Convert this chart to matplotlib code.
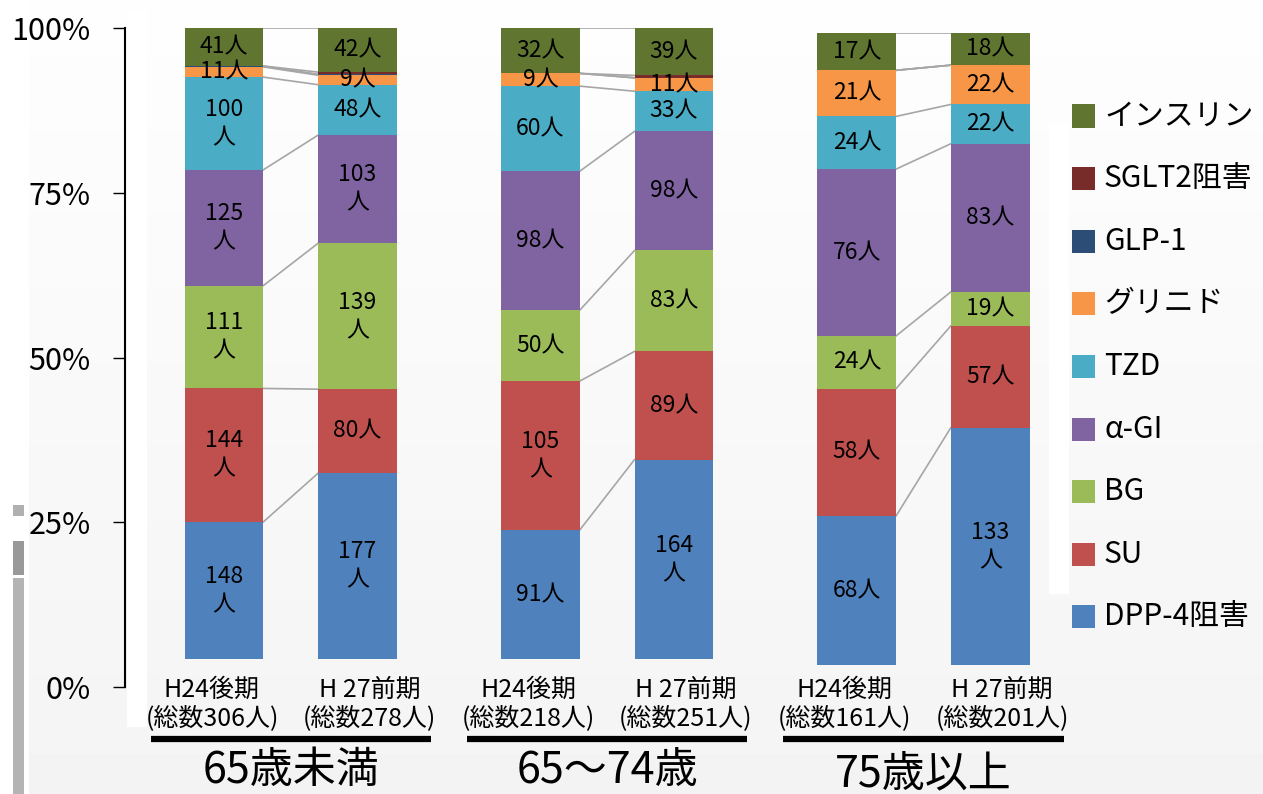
import numpy as np
import matplotlib
matplotlib.use("Agg")
import matplotlib.pyplot as plt
from matplotlib.patches import Rectangle
from matplotlib.transforms import blended_transform_factory

plt.rcParams['font.family'] = ['Noto Sans CJK JP', 'DejaVu Sans']

# drug classes, bottom of the stack first
series = ['DPP-4阻害', 'SU', 'BG', 'α-GI', 'TZD', 'グリニド', 'GLP-1', 'SGLT2阻害', 'インスリン']
colors = ['#4F81BD', '#C0504D', '#9BBB59', '#8064A2', '#4BACC6', '#F79646', '#2C4D75', '#772C2A', '#5F7530']

groups = ['65歳未満', '65～74歳', '75歳以上']
periods = ['H24後期', 'H 27前期']
totals = [306, 278, 218, 251, 161, 201]

# patients per class, one value per bar (group x period)
dpp4 = [148, 177, 91, 164, 68, 133]
su = [144, 80, 105, 89, 58, 57]
bg = [111, 139, 50, 83, 24, 19]
agi = [125, 103, 98, 98, 76, 83]
tzd = [100, 48, 60, 33, 24, 22]
glinide = [11, 9, 9, 11, 21, 22]
glp1 = [1, 1, 0, 0, 0, 0]
sglt2 = [0, 2, 0, 2, 0, 0]
insulin = [41, 42, 32, 39, 17, 18]

counts = np.array([dpp4, su, bg, agi, tzd, glinide, glp1, sglt2, insulin], dtype=float)
shares = counts / counts.sum(axis=0)
tops = np.cumsum(shares, axis=0)
bottoms = tops - shares

W, H = 1263, 794
fig = plt.figure(figsize=(W / 100, H / 100), dpi=100)


def fx(px):
    return px / W


def fy(py):
    return 1 - py / H


# slide background: soft vertical gradient
bg_ax = fig.add_axes([0, 0, 1, 1], zorder=-10)
grad = np.linspace(0.995, 0.955, 256)[:, None] * np.ones((1, 2))
bg_ax.imshow(grad, cmap='gray', vmin=0, vmax=1, aspect='auto', extent=[0, 1, 0, 1])
bg_ax.axis('off')


def strip(x0, y0, x1, y1, color):
    fig.patches.append(Rectangle((fx(x0), fy(y1)), fx(x1) - fx(x0), fy(y0) - fy(y1),
                                 transform=fig.transFigure, color=color, zorder=-5, lw=0))


strip(0, 0, 29, H, 'white')
strip(127, 10, 147, 727, 'white')
strip(1049, 124, 1069, 594, 'white')
strip(13, 505, 24, 516, '#B0B0B0')
strip(13, 541, 24, 575, '#999999')
strip(13, 578, 24, H, '#B4B4B4')

# bar layout
gap = 2.37
width = 0.59
xpos = [g * gap + b for g in range(3) for b in range(2)]
xlim = ((147 - 224) / 133.5, (1048 - 224) / 133.5)

ax = fig.add_axes([fx(147), fy(659), fx(1048) - fx(147), (659 - 28) / H])
ax3 = fig.add_axes([fx(147), fy(665), fx(1048) - fx(147), (665 - 33) / H])
for a in (ax, ax3):
    a.set_xlim(*xlim)
    a.set_ylim(0, 1)
    a.axis('off')
    a.patch.set_alpha(0)

for g in range(3):
    a = ax3 if g == 2 else ax
    i0, i1 = 2 * g, 2 * g + 1
    # series lines between the two periods
    for k in range(len(series)):
        a.plot([xpos[i0] + width / 2, xpos[i1] - width / 2], [tops[k, i0], tops[k, i1]],
               color='#A6A6A6', lw=1.2, zorder=1)
    for i in (i0, i1):
        a.bar([xpos[i]] * len(series), shares[:, i], bottom=bottoms[:, i], width=width,
              color=colors, edgecolor='none', zorder=2)
        for k in range(len(series)):
            n = int(counts[k, i])
            if n < 5:
                continue
            label = f'{n}\n人' if n >= 100 else f'{n}人'
            a.text(xpos[i], bottoms[k, i] + shares[k, i] / 2, label, ha='center', va='center',
                   fontsize=16.5, linespacing=1.3, zorder=3)

# period labels, group underlines and titles
tr = blended_transform_factory(ax.transData, fig.transFigure)
for i, x in enumerate(xpos):
    xl = x - 0.09 if i % 2 == 0 else x + 0.09
    ax.text(xl, fy(690), periods[i % 2], transform=tr, ha='center', va='center', fontsize=18)
    ax.text(xl, fy(718), f'(総数{totals[i]}人)', transform=tr, ha='center', va='center', fontsize=18)
title_y = [771, 771, 774]
for g in range(3):
    xc = (xpos[2 * g] + xpos[2 * g + 1]) / 2
    ax.plot([xc - 1.05, xc + 1.05], [fy(739), fy(739)], transform=tr, color='black',
            lw=4.5, solid_capstyle='butt', clip_on=False)
    ax.text(xc, fy(title_y[g]), groups[g], transform=tr, ha='center', va='center', fontsize=31)

# percent axis
ax_t = fig.add_axes([fx(125), fy(687), 0.0005, (687 - 28) / H])
ax_t.set_ylim(0, 1)
ax_t.set_yticks([0, 0.25, 0.5, 0.75, 1.0])
ax_t.set_yticklabels(['0%', '25%', '50%', '75%', '100%'], fontsize=22)
ax_t.set_xticks([])
ax_t.patch.set_alpha(0)
for s in ('top', 'right', 'bottom'):
    ax_t.spines[s].set_visible(False)
ax_t.spines['left'].set_linewidth(1.5)
ax_t.tick_params(axis='y', length=8.6, width=1.0, pad=16)

# legend, insulin at the top
for j, k in enumerate(reversed(range(len(series)))):
    yc = 116 + j * 62.6
    fig.patches.append(Rectangle((fx(1072), fy(yc + 11.5)), fx(23), 23 / H,
                                 transform=fig.transFigure, color=colors[k], lw=0))
    fig.text(fx(1104), fy(yc), series[k], ha='left', va='center', fontsize=21.5)

fig.savefig('out.png', dpi=100)
